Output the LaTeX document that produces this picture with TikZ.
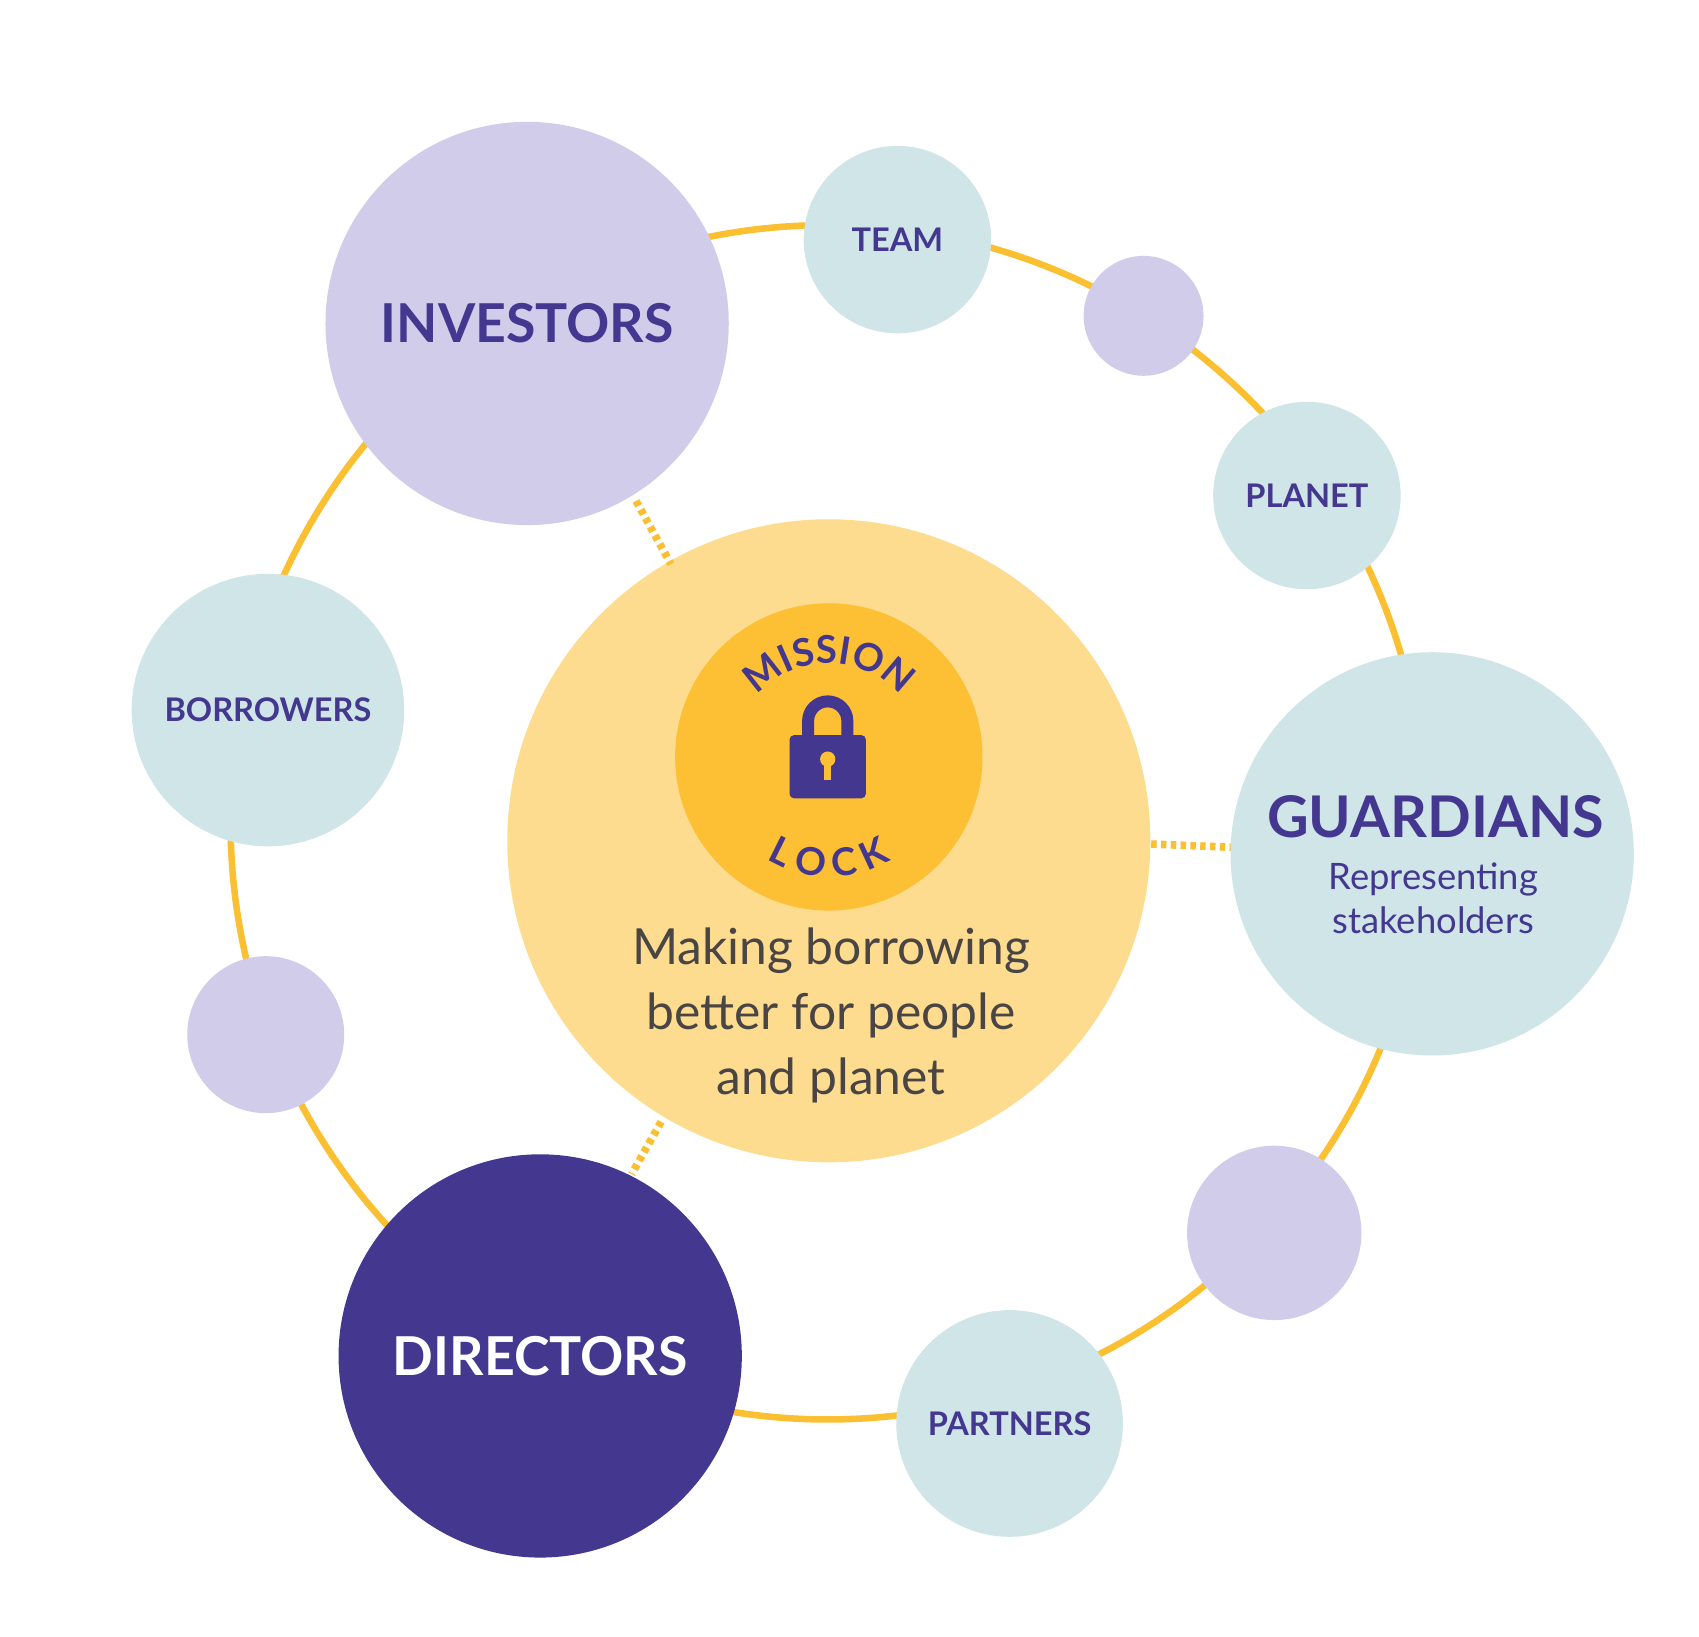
\documentclass[tikz,border=0pt]{standalone}
\usepackage{fontspec}
\setmainfont{Lato}
\usetikzlibrary{decorations.text}
\definecolor{lavender}{HTML}{D2CCEB}
\definecolor{mist}{HTML}{CFE5E8}
\definecolor{ink}{HTML}{43378F}
\definecolor{sun}{HTML}{FBBF32}
\definecolor{pale}{HTML}{FDDC8F}
\definecolor{core}{HTML}{FDC035}
\definecolor{slate}{HTML}{4A4545}
\begin{document}
\begin{tikzpicture}[
x=0.01cm, y=0.01cm,
bubble/.style={circle, inner sep=0pt, minimum size=#1*0.02cm, align=center},
ring/.style={draw=sun, line width=0.06cm},
link/.style={draw=sun, line width=0.07cm, dash pattern=on 0.05cm off 0.04cm},
big/.style={font=\bfseries\fontsize{14}{16}\selectfont, text=ink},
small/.style={font=\bfseries\fontsize{8.5}{10}\selectfont, text=ink}
]
\useasboundingbox (0,0) rectangle (1560,-1503);

%% orbit
\draw[ring] (760,-755) circle[radius=5.48cm];

%% centre
\node[bubble=295, fill=pale] (hub) at (761,-772) {};
\node[bubble=141, fill=core] (lock) at (761,-695) {};

%% links
\draw[link] (584,-460) -- (616,-518);
\draw[link] (1057,-775) -- (1132,-778);
\draw[link] (607,-1030) -- (580,-1078);

%% stakeholders
\node[bubble=185, fill=lavender, big] (investors) at (484,-297) {INVESTORS};
\node[bubble=86, fill=mist, small] (team) at (824,-220) {TEAM};
\node[bubble=55, fill=lavender] (dotA) at (1050,-290) {};
\node[bubble=86, fill=mist, small] (planet) at (1200,-455) {PLANET};
\node[bubble=185, fill=mist] (guardians) at (1315,-784) {};
\node[big, font=\bfseries\fontsize{15}{17}\selectfont] (gtitle) at (1318,-750) {GUARDIANS};
\node[text=ink, font=\fontsize{9.5}{11.5}\selectfont, align=center, below=0pt] (gsub) at (1316,-780) {Representing\\stakeholders};
\node[bubble=80, fill=lavender] (dotB) at (1170,-1132) {};
\node[bubble=104, fill=mist, small] (partners) at (927,-1307) {PARTNERS};
\node[bubble=185, fill=ink, big, text=white] (directors) at (496,-1245) {DIRECTORS};
\node[bubble=72, fill=lavender] (dotC) at (244,-950) {};
\node[bubble=125, fill=mist, small] (borrowers) at (246,-652) {BORROWERS};

%% mission lock
\path[decorate, decoration={text along path, text align=center,
  text={|\bfseries\fontsize{10}{12}\selectfont\color{ink}|MISSION}}]
  (761,-695) ++(152:0.86cm) arc[start angle=152, end angle=28, radius=0.86cm];
\path[decorate, decoration={text along path, text align=center,
  text={|\bfseries\fontsize{10}{12}\selectfont\color{ink}|L O C K}}]
  (761,-695) ++(215:1.1cm) arc[start angle=215, end angle=325, radius=1.1cm];
\draw[ink, line width=0.11cm] (742,-682) -- (742,-662) arc[start angle=180, end angle=0, radius=0.18cm] -- (778,-682);
\fill[ink, rounded corners=0.04cm] (725,-675) rectangle (795,-733);
\fill[core] (760,-697) circle[radius=0.07cm];
\fill[core] (757,-700) rectangle (763,-716);

\node[text=slate, font=\fontsize{13}{17}\selectfont, align=center] (motto) at (763,-932) {Making borrowing\\better for people\\and planet};
\end{tikzpicture}
\end{document}
